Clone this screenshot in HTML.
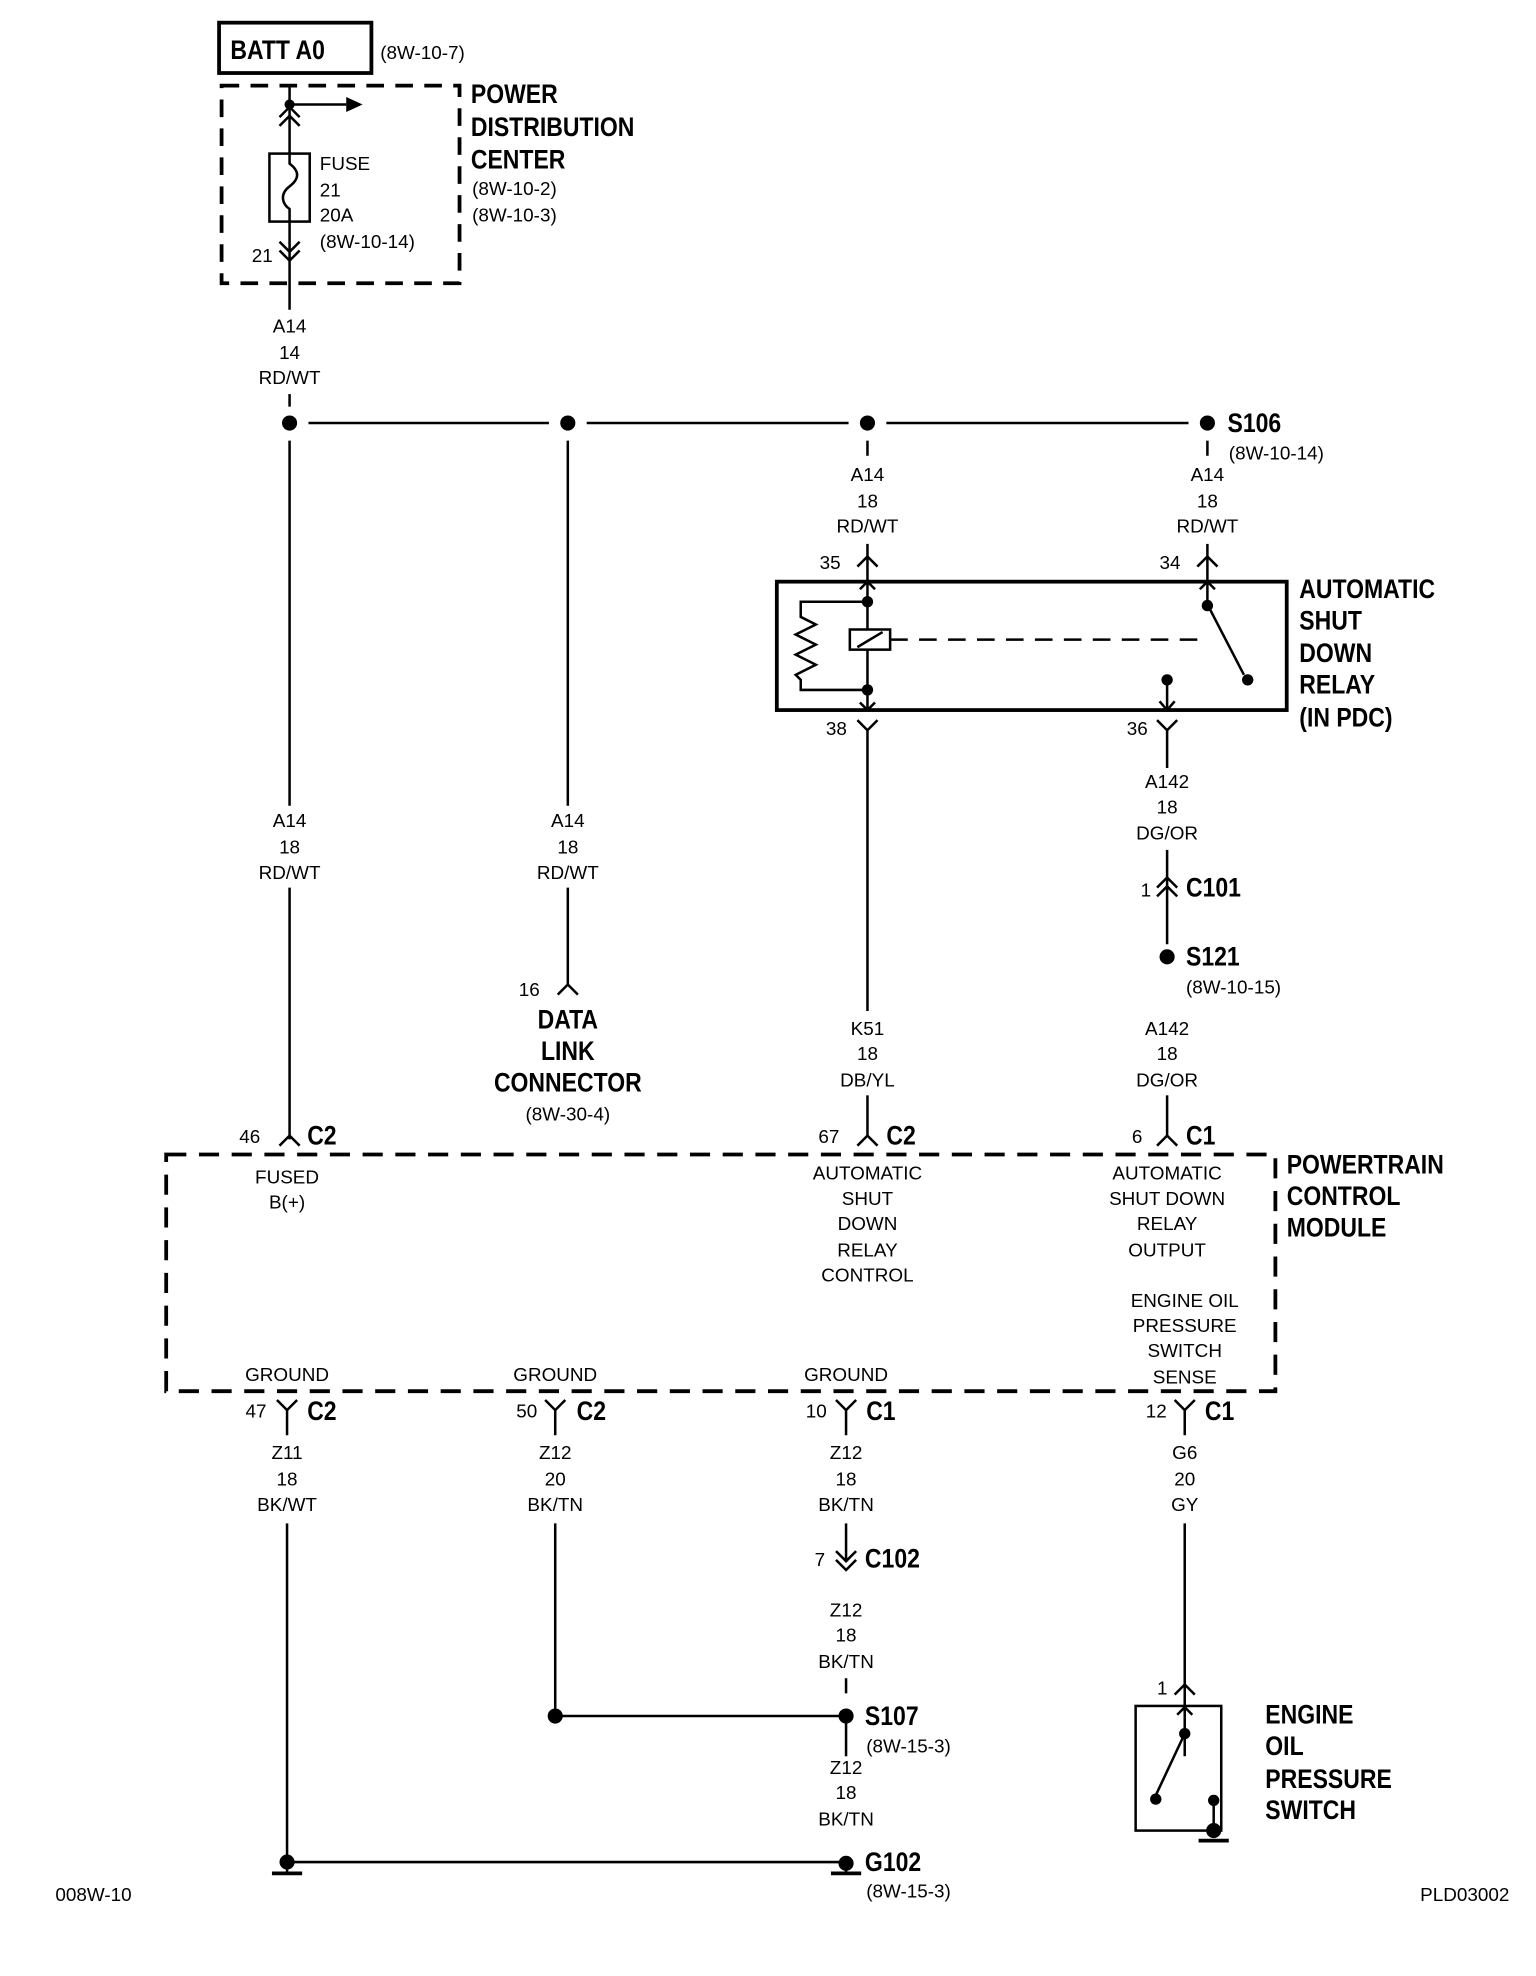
<!DOCTYPE html>
<html><head><meta charset="utf-8"><style>
html,body{margin:0;padding:0;background:#fff;}
svg{display:block;}
text{font-family:"Liberation Sans Narrow","Liberation Sans",sans-serif;fill:#000;}
.s{font-size:15px;}
.b{font-size:21px;font-weight:bold;transform-box:fill-box;transform-origin:left center;transform:scaleX(0.87);}
.m{text-anchor:middle;}
.b.m{transform-origin:center center;}
</style></head><body>
<svg width="1536" height="1976" viewBox="0 0 1220 1569.5" preserveAspectRatio="none" xmlns="http://www.w3.org/2000/svg">
<g stroke="#000" stroke-width="2" fill="none">
<rect x="174" y="18" width="121" height="40" stroke-width="3"/>
<rect x="176" y="68" width="189" height="157" stroke-width="3" stroke-dasharray="14,9"/>
<line x1="230" y1="68" x2="230" y2="122"/>
<line x1="230" y1="83" x2="275" y2="83"/>
<polyline points="222,93 230,85 238,93"/><polyline points="222,100 230,92 238,100"/>
<rect x="214" y="122" width="32" height="54"/>
<path d="M230,122 v8 c8,6 8,12 0,18 c-8,6 -6,14 0,18 v10"/>
<line x1="230" y1="176" x2="230" y2="246"/>
<polyline points="222,192 230,200 238,192"/><polyline points="222,199 230,207 238,199"/>
<line x1="230" y1="313" x2="230" y2="323"/>
<line x1="245" y1="336" x2="436" y2="336"/>
<line x1="466" y1="336" x2="674" y2="336"/>
<line x1="704" y1="336" x2="944" y2="336"/>
<line x1="230" y1="350" x2="230" y2="640"/>
<line x1="230" y1="705" x2="230" y2="905"/>
<polyline points="222,910 230,902 238,910"/>
<line x1="451" y1="350" x2="451" y2="640"/>
<line x1="451" y1="705" x2="451" y2="782"/>
<polyline points="443,790 451,782 459,790"/>
<line x1="689" y1="350" x2="689" y2="362"/>
<line x1="689" y1="432" x2="689" y2="478"/>
<polyline points="681,450 689,442 697,450"/>
<polyline points="683,468 689,462 695,468"/>
<line x1="959" y1="350" x2="959" y2="362"/>
<line x1="959" y1="432" x2="959" y2="480"/>
<polyline points="951,450 959,442 967,450"/>
<polyline points="953,468 959,462 965,468"/>
<rect x="617" y="462" width="405" height="102" stroke-width="3"/>
<line x1="689" y1="478" x2="689" y2="564"/>
<rect x="675" y="500" width="32" height="16" fill="#fff"/>
<line x1="681" y1="514" x2="701" y2="502"/>
<polyline points="689,478 636,478 636,490 648,496 632,504 648,512 632,520 648,528 632,536 636,540 636,548 689,548"/>
<line x1="707" y1="508" x2="960" y2="508" stroke-dasharray="14,9"/>
<line x1="959" y1="480" x2="988" y2="536"/>
<line x1="927" y1="540" x2="927" y2="564"/>
<polyline points="921,557 927,564 933,557"/>
<polyline points="683,558 689,564 695,558"/>
<polyline points="681,572 689,580 697,572"/>
<line x1="689" y1="580" x2="689" y2="803"/>
<polyline points="919,572 927,580 935,572"/>
<line x1="927" y1="580" x2="927" y2="610"/>
<line x1="927" y1="675" x2="927" y2="750"/>
<polyline points="919,705 927,697 935,705"/><polyline points="919,712 927,704 935,712"/>
<line x1="927" y1="870" x2="927" y2="903"/>
<polyline points="919,910 927,902 935,910"/>
<line x1="689" y1="870" x2="689" y2="903"/>
<polyline points="681,910 689,902 697,910"/>
<rect x="132" y="917" width="881" height="188" stroke-width="3" stroke-dasharray="16,10"/>
<g>
<polyline points="220,1112 228,1120 236,1112"/><line x1="228" y1="1120" x2="228" y2="1140"/>
<polyline points="433,1112 441,1120 449,1112"/><line x1="441" y1="1120" x2="441" y2="1140"/>
<polyline points="664,1112 672,1120 680,1112"/><line x1="672" y1="1120" x2="672" y2="1140"/>
<polyline points="933,1112 941,1120 949,1112"/><line x1="941" y1="1120" x2="941" y2="1140"/>
</g>
<line x1="228" y1="1210" x2="228" y2="1478"/>
<line x1="441" y1="1210" x2="441" y2="1363"/>
<line x1="441" y1="1363" x2="672" y2="1363"/>
<line x1="672" y1="1210" x2="672" y2="1240"/>
<polyline points="664,1232 672,1240 680,1232"/><polyline points="664,1239 672,1247 680,1239"/>
<line x1="672" y1="1333" x2="672" y2="1345"/>
<line x1="672" y1="1363" x2="672" y2="1395"/>
<line x1="228" y1="1479" x2="672" y2="1479"/>
<line x1="941" y1="1210" x2="941" y2="1395"/>
<polyline points="933,1346 941,1338 949,1346"/>
<polyline points="935,1362 941,1356 947,1362"/>
<rect x="902" y="1355" width="68" height="99"/>
<line x1="941" y1="1377" x2="918" y2="1426"/>
<line x1="964" y1="1430" x2="964" y2="1454"/>
<line x1="952" y1="1462" x2="976" y2="1462" stroke-width="3"/>
<line x1="216" y1="1488" x2="240" y2="1488" stroke-width="3"/>
<line x1="660" y1="1488" x2="684" y2="1488" stroke-width="3"/>
<line x1="228" y1="1479" x2="228" y2="1488"/>
<line x1="672" y1="1479" x2="672" y2="1488"/>
</g>
<polygon points="275,77 288,83 275,89" fill="#000"/>
<g fill="#000">
<circle cx="230" cy="83" r="4"/>
<circle cx="230" cy="336" r="6"/><circle cx="451" cy="336" r="6"/><circle cx="689" cy="336" r="6"/><circle cx="959" cy="336" r="6"/>
<circle cx="689" cy="478" r="4.5"/><circle cx="689" cy="548" r="4.5"/>
<circle cx="959" cy="481" r="4.5"/><circle cx="991" cy="540" r="4.5"/><circle cx="927" cy="540" r="4.5"/>
<circle cx="927" cy="760" r="6"/>
<circle cx="441" cy="1363" r="6"/><circle cx="672" cy="1363" r="6"/>
<circle cx="228" cy="1479" r="6"/><circle cx="672" cy="1480" r="6"/>
<circle cx="941" cy="1377" r="4.5"/><circle cx="918" cy="1429" r="4.5"/><circle cx="964" cy="1430" r="4.5"/><circle cx="964" cy="1454" r="6"/>
</g>
<text class="b" x="183" y="47">BATT A0</text>
<text class="s" x="302" y="47">(8W-10-7)</text>
<text class="b" x="374" y="82">POWER</text>
<text class="b" x="374" y="108">DISTRIBUTION</text>
<text class="b" x="374" y="134">CENTER</text>
<text class="s" x="375" y="155">(8W-10-2)</text>
<text class="s" x="375" y="176">(8W-10-3)</text>
<text class="s" x="254" y="135">FUSE</text>
<text class="s" x="254" y="156">21</text>
<text class="s" x="254" y="176">20A</text>
<text class="s" x="254" y="197">(8W-10-14)</text>
<text class="s" x="200" y="208">21</text>
<text class="s m" x="230" y="264">A14</text><text class="s m" x="230" y="285">14</text><text class="s m" x="230" y="305">RD/WT</text>
<text class="s m" x="230" y="657">A14</text><text class="s m" x="230" y="678">18</text><text class="s m" x="230" y="698">RD/WT</text>
<text class="s m" x="451" y="657">A14</text><text class="s m" x="451" y="678">18</text><text class="s m" x="451" y="698">RD/WT</text>
<text class="s m" x="689" y="382">A14</text><text class="s m" x="689" y="403">18</text><text class="s m" x="689" y="423">RD/WT</text>
<text class="s m" x="959" y="382">A14</text><text class="s m" x="959" y="403">18</text><text class="s m" x="959" y="423">RD/WT</text>
<text class="s m" x="927" y="626">A142</text><text class="s m" x="927" y="646">18</text><text class="s m" x="927" y="667">DG/OR</text>
<text class="s m" x="927" y="822">A142</text><text class="s m" x="927" y="842">18</text><text class="s m" x="927" y="863">DG/OR</text>
<text class="s m" x="689" y="822">K51</text><text class="s m" x="689" y="842">18</text><text class="s m" x="689" y="863">DB/YL</text>
<text class="s m" x="228" y="940">FUSED</text><text class="s m" x="228" y="960">B(+)</text>
<text class="s m" x="689" y="937">AUTOMATIC</text><text class="s m" x="689" y="957">SHUT</text><text class="s m" x="689" y="977">DOWN</text><text class="s m" x="689" y="998">RELAY</text><text class="s m" x="689" y="1018">CONTROL</text>
<text class="s m" x="927" y="937">AUTOMATIC</text><text class="s m" x="927" y="957">SHUT DOWN</text><text class="s m" x="927" y="977">RELAY</text><text class="s m" x="927" y="998">OUTPUT</text>
<text class="s m" x="941" y="1038">ENGINE OIL</text><text class="s m" x="941" y="1058">PRESSURE</text><text class="s m" x="941" y="1078">SWITCH</text><text class="s m" x="941" y="1099">SENSE</text>
<text class="s m" x="228" y="1097">GROUND</text><text class="s m" x="441" y="1097">GROUND</text><text class="s m" x="672" y="1097">GROUND</text>
<text class="s m" x="228" y="1159">Z11</text><text class="s m" x="228" y="1180">18</text><text class="s m" x="228" y="1200">BK/WT</text>
<text class="s m" x="441" y="1159">Z12</text><text class="s m" x="441" y="1180">20</text><text class="s m" x="441" y="1200">BK/TN</text>
<text class="s m" x="672" y="1159">Z12</text><text class="s m" x="672" y="1180">18</text><text class="s m" x="672" y="1200">BK/TN</text>
<text class="s m" x="941" y="1159">G6</text><text class="s m" x="941" y="1180">20</text><text class="s m" x="941" y="1200">GY</text>
<text class="s m" x="672" y="1284">Z12</text><text class="s m" x="672" y="1304">18</text><text class="s m" x="672" y="1325">BK/TN</text>
<text class="s m" x="672" y="1409">Z12</text><text class="s m" x="672" y="1429">18</text><text class="s m" x="672" y="1450">BK/TN</text>
<text class="s m" x="451" y="890">(8W-30-4)</text>
<text class="b m" x="451" y="817">DATA</text><text class="b m" x="451" y="842">LINK</text><text class="b m" x="451" y="867">CONNECTOR</text>
<text class="s" x="412" y="791">16</text>
<text class="b" x="975" y="343">S106</text><text class="s" x="976" y="365">(8W-10-14)</text>
<text class="s" x="651" y="452">35</text><text class="s" x="921" y="452">34</text>
<text class="s" x="656" y="584">38</text><text class="s" x="895" y="584">36</text>
<text class="b" x="1032" y="475">AUTOMATIC</text><text class="b" x="1032" y="500">SHUT</text><text class="b" x="1032" y="526">DOWN</text><text class="b" x="1032" y="551">RELAY</text><text class="b" x="1032" y="577">(IN PDC)</text>
<text class="s" x="906" y="712">1</text><text class="b" x="942" y="712">C101</text>
<text class="b" x="942" y="767">S121</text><text class="s" x="942" y="789">(8W-10-15)</text>
<text class="s" x="190" y="908">46</text><text class="b" x="244" y="909">C2</text>
<text class="s" x="650" y="908">67</text><text class="b" x="704" y="909">C2</text>
<text class="s" x="899" y="908">6</text><text class="b" x="942" y="909">C1</text>
<text class="b" x="1022" y="932">POWERTRAIN</text><text class="b" x="1022" y="957">CONTROL</text><text class="b" x="1022" y="982">MODULE</text>
<text class="s" x="195" y="1126">47</text><text class="b" x="244" y="1128">C2</text>
<text class="s" x="410" y="1126">50</text><text class="b" x="458" y="1128">C2</text>
<text class="s" x="640" y="1126">10</text><text class="b" x="688" y="1128">C1</text>
<text class="s" x="910" y="1126">12</text><text class="b" x="957" y="1128">C1</text>
<text class="s" x="647" y="1244">7</text><text class="b" x="687" y="1245">C102</text>
<text class="b" x="687" y="1370">S107</text><text class="s" x="688" y="1392">(8W-15-3)</text>
<text class="b" x="687" y="1486">G102</text><text class="s" x="688" y="1507">(8W-15-3)</text>
<text class="s" x="919" y="1346">1</text>
<text class="b" x="1005" y="1369">ENGINE</text><text class="b" x="1005" y="1394">OIL</text><text class="b" x="1005" y="1420">PRESSURE</text><text class="b" x="1005" y="1445">SWITCH</text>
<text class="s" x="44" y="1510">008W-10</text>
<text class="s" x="1128" y="1510">PLD03002</text>
</svg>
</body></html>
